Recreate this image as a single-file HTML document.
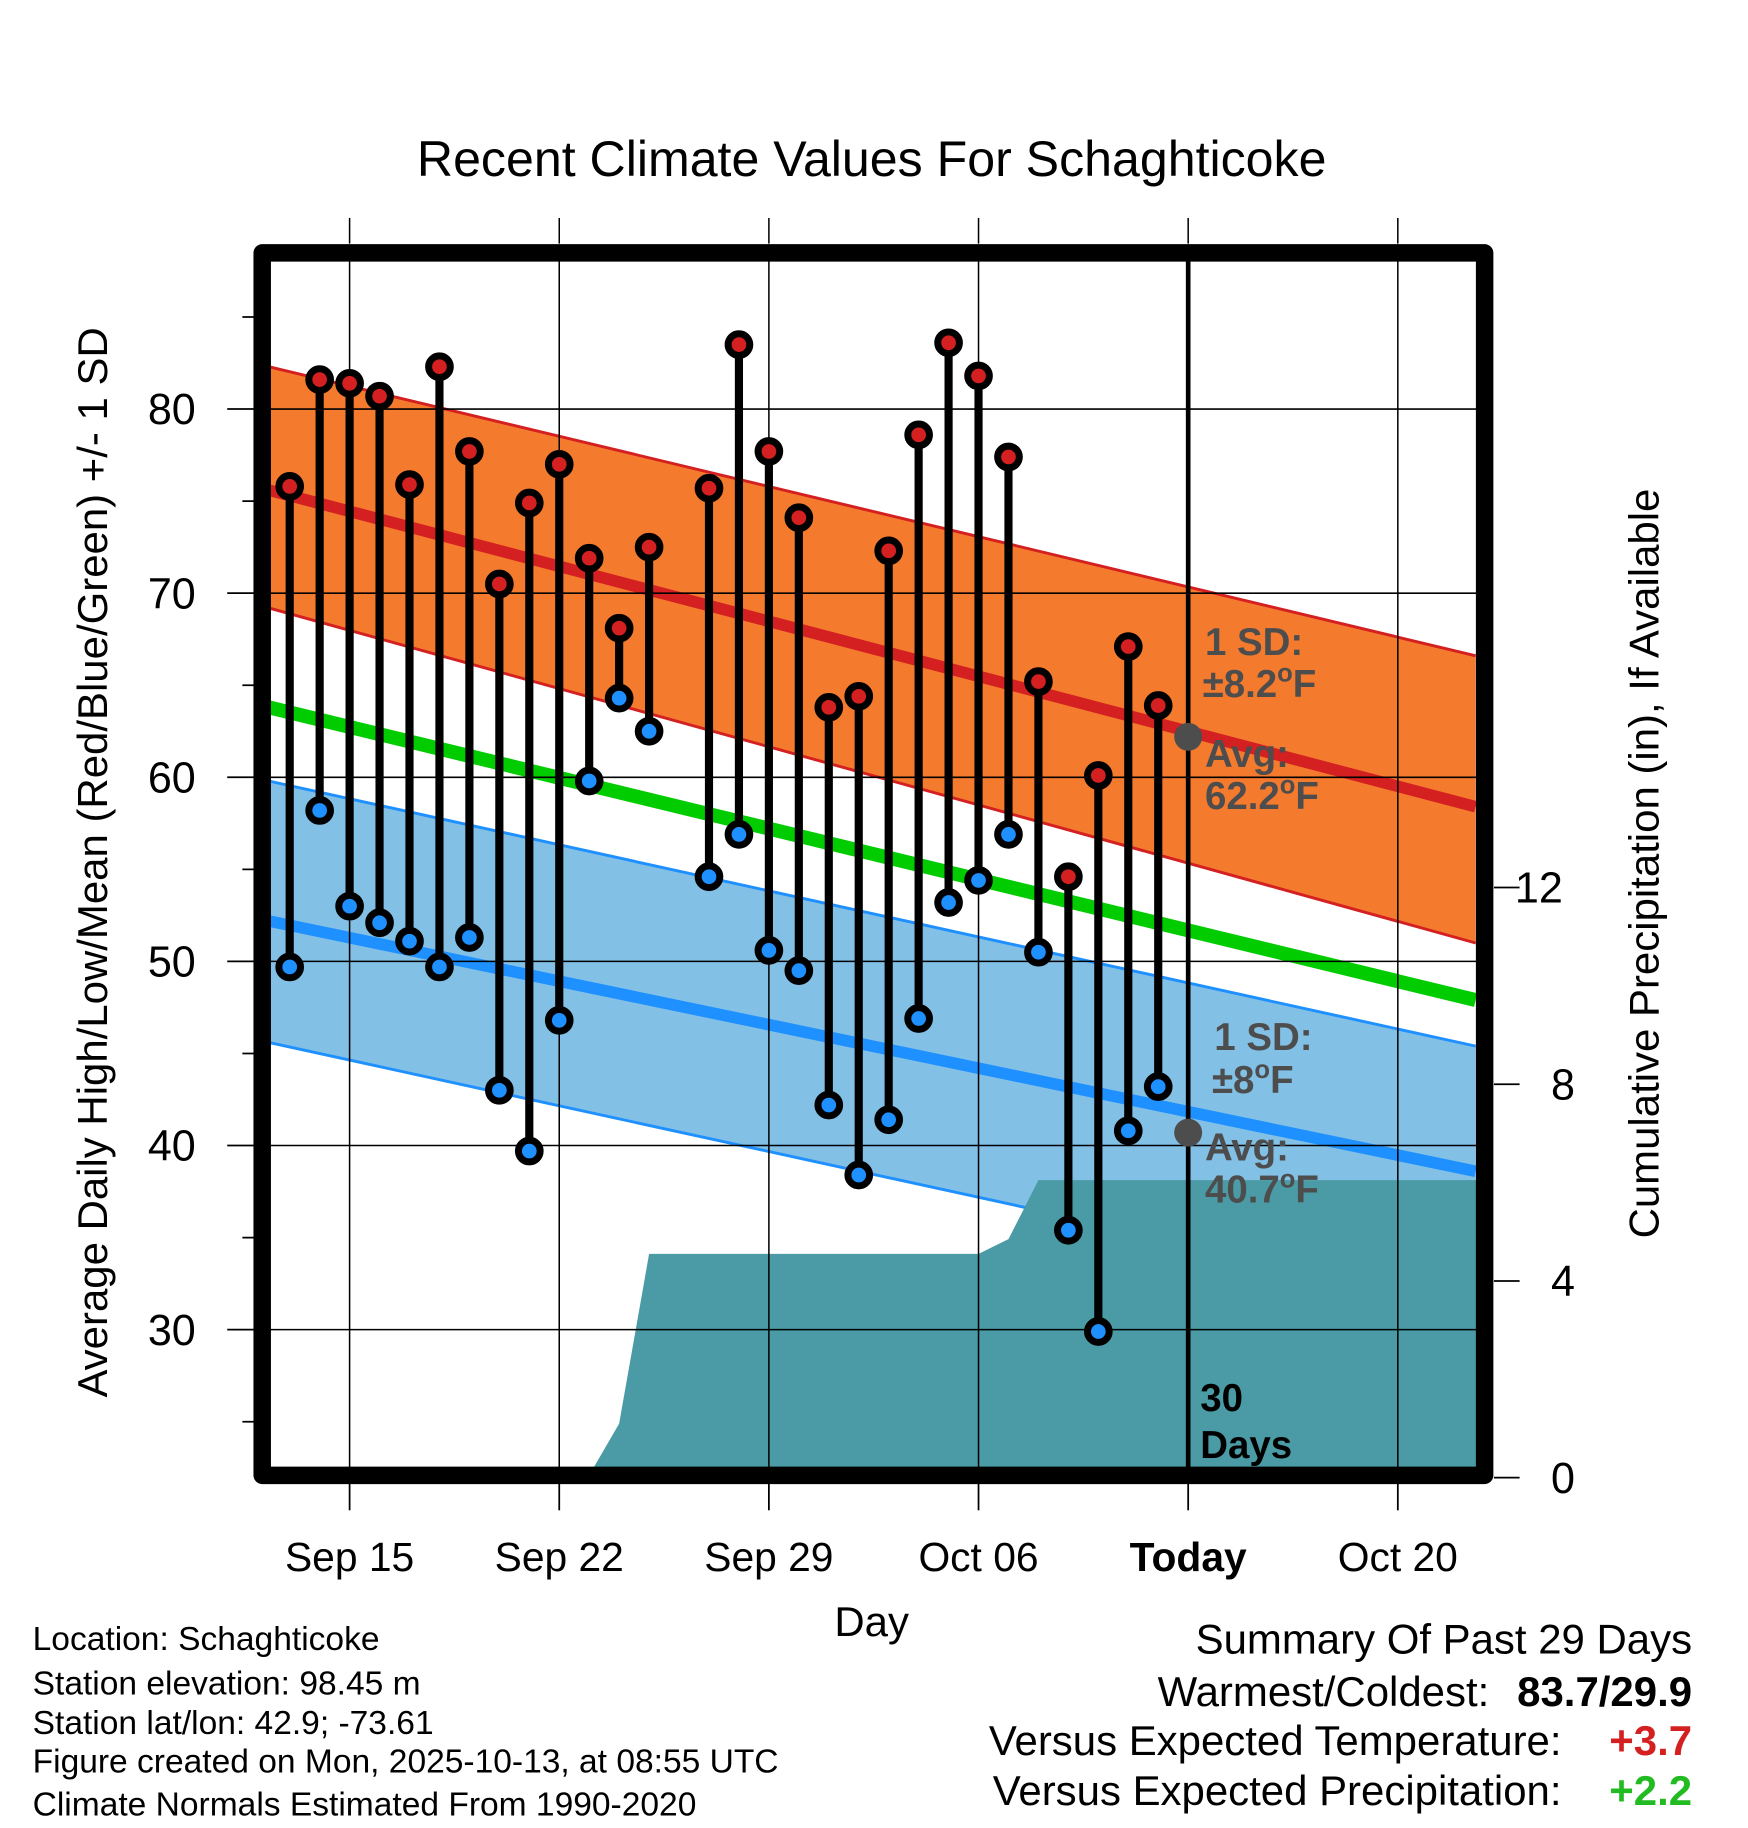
<!DOCTYPE html>
<html><head><meta charset="utf-8"><style>
html,body{margin:0;padding:0;background:#fff;}
svg{display:block;font-family:"Liberation Sans",sans-serif;}
</style></head><body>
<svg id="c" width="1748" height="1828" viewBox="0 0 1500 1568.6" xmlns="http://www.w3.org/2000/svg">
<rect width="1500" height="1568.6" fill="#fff"/>
<text x="748" y="151" font-size="43" text-anchor="middle">Recent Climate Values For Schaghticoke</text>
<defs><clipPath id="pc"><rect x="225" y="217" width="1049" height="1049"/></clipPath></defs>
<g id="plot" clip-path="url(#pc)"></g>
<g id="over"></g>
<g id="axes"></g>
<text transform="translate(92,740) rotate(-90)" font-size="36" text-anchor="middle">Average Daily High/Low/Mean (Red/Blue/Green) +/- 1 SD</text>
<text transform="translate(1423,741) rotate(-90)" font-size="36" text-anchor="middle">Cumulative Precipitation (in), If Available</text>
<text x="748" y="1404" font-size="36" text-anchor="middle">Day</text>
<g font-size="28.8">
<text x="28" y="1416">Location: Schaghticoke</text>
<text x="28" y="1454">Station elevation: 98.45 m</text>
<text x="28" y="1488">Station lat/lon: 42.9; -73.61</text>
<text x="28" y="1521">Figure created on Mon, 2025-10-13, at 08:55 UTC</text>
<text x="28" y="1558">Climate Normals Estimated From 1990-2020</text>
</g>
<g font-size="36">
<text x="1452" y="1419" text-anchor="end">Summary Of Past 29 Days</text>
<text x="1278" y="1464" text-anchor="end">Warmest/Coldest:</text>
<text x="1452" y="1464" text-anchor="end" font-weight="bold">83.7/29.9</text>
<text x="1340" y="1506" text-anchor="end">Versus Expected Temperature:</text>
<text x="1452" y="1506" text-anchor="end" font-weight="bold" fill="#d42020">+3.7</text>
<text x="1340" y="1549" text-anchor="end">Versus Expected Precipitation:</text>
<text x="1452" y="1549" text-anchor="end" font-weight="bold" fill="#22bb22">+2.2</text>
</g>
</svg>
<script>
// data (day offset from Sep 15)
const days=[-2,-1,0,1,2,3,4,5,6,7,8,9,10,11,12,13,14,15,16,17,18,19,20,21,22,23,24,25,26,27];
const highs=[75.8,81.6,81.4,80.7,75.9,82.3,77.7,70.5,74.9,77.0,71.9,68.1,72.5,null,75.7,83.5,77.7,74.1,63.8,64.4,72.3,78.6,83.6,81.8,77.4,65.2,54.6,60.1,67.1,63.9];
const lows=[49.7,58.2,53.0,52.1,51.1,49.7,51.3,43.0,39.7,46.8,59.8,64.3,62.5,null,54.6,56.9,50.6,49.5,42.2,38.4,41.4,46.9,53.2,54.4,56.9,50.5,35.4,29.9,40.8,43.2];
const precipDays=[7,8,9,10,21,22,23,38.1];
const precipVals=[0,0.05,1.1,4.55,4.55,4.85,6.05,6.05];
const normDays=[-2.7,37.6];
const avgHigh=[75.6,58.4];
const hiUpper=[82.3,66.6];
const hiLower=[69.2,51.0];
const avgMean=[63.8,47.9];
const avgLow=[52.2,38.6];
const loUpper=[59.8,45.4];
const loLower=[45.6,31.3];
const xTickDays=[0,7,14,21,28,35];
const xTickLabels=["Sep 15","Sep 22","Sep 29","Oct 06","Today","Oct 20"];
const yTicks=[30,40,50,60,70,80];
const pTicks=[0,4,8,12];
const todayDay=28, todayHigh=62.2, todayLow=40.7;

const NS="http://www.w3.org/2000/svg";
const X=d=>300+25.7*d;
const Y=v=>351+(80-v)*15.8;
const P=p=>1268-p*42.2;
function mk(parent,tag,a){const e=document.createElementNS(NS,tag);for(const k in a)e.setAttribute(k,a[k]);document.getElementById(parent).appendChild(e);return e;}
function pts(ds,vs,f){return ds.map((d,i)=>X(d)+","+f(vs[i])).join(" ");}

let e;
e=mk('plot','polygon',{points:pts(normDays,hiUpper,Y)+" "+pts(normDays.slice().reverse(),hiLower.slice().reverse(),Y),fill:"#f47a2e"});

e=mk('plot','polygon',{points:pts(normDays,loUpper,Y)+" "+pts(normDays.slice().reverse(),loLower.slice().reverse(),Y),fill:"#82c0e6"});

[[hiUpper,"#d42020",2.5,'high-band-upper'],[hiLower,"#d42020",2.5,'high-band-lower'],[loUpper,"#1e90ff",2.5,'low-band-upper'],[loLower,"#1e90ff",2.5,'low-band-lower'],[avgHigh,"#d42020",10,'avg-high-line'],[avgMean,"#00cc00",12,'avg-mean-line'],[avgLow,"#1e90ff",10,'avg-low-line']].forEach(l=>{
 e=mk('plot','polyline',{points:pts(normDays,l[0],Y),stroke:l[1],"stroke-width":l[2],fill:"none"});
 
 
});
// precip
let pp=X(precipDays[0])+","+P(0)+" "+pts(precipDays,precipVals,P)+" "+X(precipDays[precipDays.length-1])+","+P(0);
e=mk('plot','polygon',{points:pp,fill:"#4a9ba5"});

// grid
xTickDays.forEach(d=>{e=mk('plot','line',{x1:X(d),x2:X(d),y1:200,y2:1280,stroke:"#000","stroke-width":1.3});});
yTicks.forEach(v=>{e=mk('plot','line',{x1:200,x2:1290,y1:Y(v),y2:Y(v),stroke:"#000","stroke-width":1.3});});
// today line
e=mk('plot','line',{x1:X(todayDay),x2:X(todayDay),y1:217,y2:1266,stroke:"#000","stroke-width":4});

// stems and dots
days.forEach((d,i)=>{
 if(highs[i]==null)return;
 e=mk('plot','line',{x1:X(d),x2:X(d),y1:Y(highs[i]),y2:Y(lows[i]),stroke:"#000","stroke-width":7});
 
});
days.forEach((d,i)=>{
 if(highs[i]==null)return;
 e=mk('plot','circle',{cx:X(d),cy:Y(highs[i]),r:9.3,fill:"#d42020",stroke:"#000","stroke-width":6});
 
 e=mk('plot','circle',{cx:X(d),cy:Y(lows[i]),r:9.3,fill:"#1e90ff",stroke:"#000","stroke-width":6});
 
});
e=mk('plot','circle',{cx:X(todayDay),cy:Y(todayHigh),r:12,fill:"#4d4d4d"});

e=mk('plot','circle',{cx:X(todayDay),cy:Y(todayLow),r:12,fill:"#4d4d4d"});

// annotations
function txt(g,x,y,s,a,name){const t=mk(g,'text',Object.assign({x:x,y:y},a));t.innerHTML=s;return t;}
const ga={"font-size":33,"font-weight":"bold",fill:"#4d4d4d"};
const deg="<tspan dy='-13' font-size='22'>o</tspan><tspan dy='13'>F</tspan>";
txt('over',1034,562,"1 SD:",ga,'high-sd-label');
txt('over',1032,598,"±8.2"+deg,ga,'high-sd-value');
txt('over',1034,658,"Avg:",ga,'high-avg-label');
txt('over',1034,694,"62.2"+deg,ga,'high-avg-value');
txt('over',1042,901,"1 SD:",ga,'low-sd-label');
txt('over',1040,938,"±8"+deg,ga,'low-sd-value');
txt('over',1034,996,"Avg:",ga,'low-avg-label');
txt('over',1034,1032,"40.7"+deg,ga,'low-avg-value');
const ba={"font-size":33,"font-weight":"bold",fill:"#000"};
txt('over',1030,1211,"30",ba,'days-label-num');
txt('over',1030,1251,"Days",ba,'days-label-text');
// frame
e=mk('axes','rect',{x:225,y:217,width:1049,height:1049,fill:"none",stroke:"#000","stroke-width":15,"stroke-linejoin":"round"});

// y ticks
for(let v=25;v<=85;v+=5){const maj=v%10==0;
 e=mk('axes','line',{x1:maj?195:208,x2:218,y1:Y(v),y2:Y(v),stroke:"#000","stroke-width":1.5});
 }
yTicks.forEach(v=>{txt('axes',168,Y(v)+13,v,{"font-size":37,"text-anchor":"end"},'y-tick-label');});
// x ticks
xTickDays.forEach((d,i)=>{
 e=mk('axes','line',{x1:X(d),x2:X(d),y1:1273,y2:1296,stroke:"#000","stroke-width":1.5});
 
 e=mk('axes','line',{x1:X(d),x2:X(d),y1:187,y2:209,stroke:"#000","stroke-width":1.3});
 
 txt('axes',X(d),1348,xTickLabels[i],{"font-size":35,"text-anchor":"middle","font-weight":xTickLabels[i]=="Today"?"bold":"normal"},'x-tick-label');
});
// precip ticks
pTicks.forEach(p=>{
 e=mk('axes','line',{x1:1282,x2:1304,y1:P(p),y2:P(p),stroke:"#000","stroke-width":1.5});
 
 txt('axes',p>=10?1300:1331,P(p)+13,p,{"font-size":37},'precip-tick-label');
});
</script>
</body></html>
